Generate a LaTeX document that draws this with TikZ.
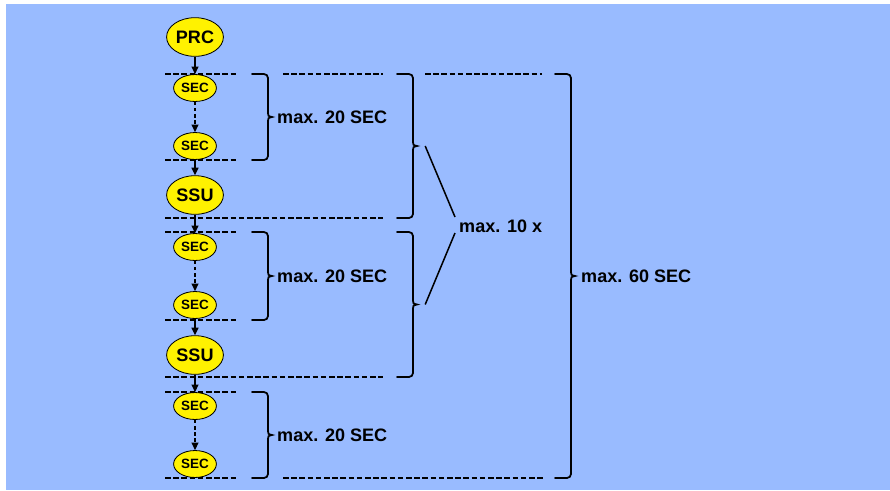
\documentclass[tikz,border=0pt]{standalone}
\usepackage{fontspec}
\setmainfont{Liberation Sans}
\usepackage{xcolor}
\usepackage{tikz}
\usetikzlibrary{shapes.geometric, arrows.meta, calc}
\definecolor{bgblue}{HTML}{99BBFF}
\tikzset{
  % Unit styles
  bigunit/.style={ellipse, draw=black, line width=0.7pt, fill=yellow, inner sep=0pt, minimum width=48.5pt, minimum height=33pt, font=\fontsize{15.4pt}{18pt}\selectfont\bfseries},
  secunit/.style={ellipse, draw=black, line width=0.7pt, fill=yellow, inner sep=0pt, minimum width=36.5pt, minimum height=23pt, font=\fontsize{11.5pt}{13pt}\selectfont\bfseries},
  % Connectors and guides
  arrow/.style={-{Triangle[length=6.5pt, width=6pt]}, line width=1.2pt},
  dasharrow/.style={-{Triangle[length=6.5pt, width=6pt]}, line width=1.2pt, dash pattern=on 3pt off 2.2pt},
  guide/.style={line width=1.3pt, dash pattern=on 4.8pt off 2.2pt},
  bkt/.style={line width=1.5pt, rounded corners=3.4pt, line cap=round},
  limit/.style={anchor=west, inner sep=0pt, font=\fontsize{15.4pt}{18pt}\selectfont\bfseries},
}
% brace: left x, shaft x, top y, bottom y, tip name
\newcommand{\brk}[5]{%
  \pgfmathsetmacro{\ym}{(#3+#4)/2}
  \draw[bkt] (#1,#3) -- (#2,#3) -- (#2,\ym-4);
  \draw[bkt] (#2,\ym+4) -- (#2,#4) -- (#1,#4);
  \draw[bkt, sharp corners] (#2,\ym-4) .. controls (#2,\ym-1) .. (#2+4,\ym) .. controls (#2,\ym+1) .. (#2,\ym+4);
  \coordinate (#5) at (#2+4,\ym);
}

\begin{document}
\begin{tikzpicture}[x=0.03cm, y=-0.03cm]
    \useasboundingbox (0,0) rectangle (890,490);
    \fill[bgblue] (6,4) rectangle (890,490);

    % Units
    \node[bigunit] (prc) at (195,37) {PRC};
    \node[secunit] (sec1) at (195,88) {SEC};
    \node[secunit] (sec2) at (195,146) {SEC};
    \node[bigunit] (ssu1) at (195,195) {SSU};
    \node[secunit] (sec3) at (195,247) {SEC};
    \node[secunit] (sec4) at (195,305) {SEC};
    \node[bigunit] (ssu2) at (195,355) {SSU};
    \node[secunit] (sec5) at (195,406) {SEC};
    \node[secunit] (sec6) at (195,464) {SEC};

    % Arrows
    \draw[arrow] (prc) -- (sec1);
    \draw[dasharrow] (sec1) -- (sec2);
    \draw[arrow] (sec2) -- (ssu1);
    \draw[arrow] (ssu1) -- (sec3);
    \draw[dasharrow] (sec3) -- (sec4);
    \draw[arrow] (sec4) -- (ssu2);
    \draw[arrow] (ssu2) -- (sec5);
    \draw[dasharrow] (sec5) -- (sec6);

    % Guide lines
    \draw[guide] (165,74) -- (238,74);
    \draw[guide] (283,74) -- (383,74);
    \draw[guide] (425,74) -- (542,74);
    \draw[guide] (165,160) -- (238,160);
    \draw[guide] (165,218) -- (383,218);
    \draw[guide] (165,232) -- (238,232);
    \draw[guide] (165,320) -- (238,320);
    \draw[guide] (165,377) -- (383,377);
    \draw[guide] (165,392) -- (238,392);
    \draw[guide] (165,478) -- (238,478);
    \draw[guide] (283,478) -- (545,478);

    % Braces
    \brk{252}{268}{74}{160}{t1}
    \brk{252}{268}{232}{320}{t2}
    \brk{252}{268}{392}{478}{t3}
    \brk{397}{413}{74}{218}{ta}
    \brk{397}{413}{232}{377}{tb}
    \brk{555}{571}{74}{478}{tall}

    % Limits
    \node[limit] (lim1) at (277,117) {max. 20 SEC};
    \node[limit] (lim2) at (277,276) {max. 20 SEC};
    \node[limit] (lim3) at (277,435) {max. 20 SEC};
    \node[limit] (limten) at (459,226) {max. 10 x};
    \node[limit] (limall) at (581,276) {max. 60 SEC};

    \draw[line width=1.3pt] ([xshift=7pt]ta) -- ([shift={(-4,-9)}]limten.west);
    \draw[line width=1.3pt] ([xshift=7pt]tb) -- ([shift={(-4,7)}]limten.west);
\end{tikzpicture}
\end{document}
